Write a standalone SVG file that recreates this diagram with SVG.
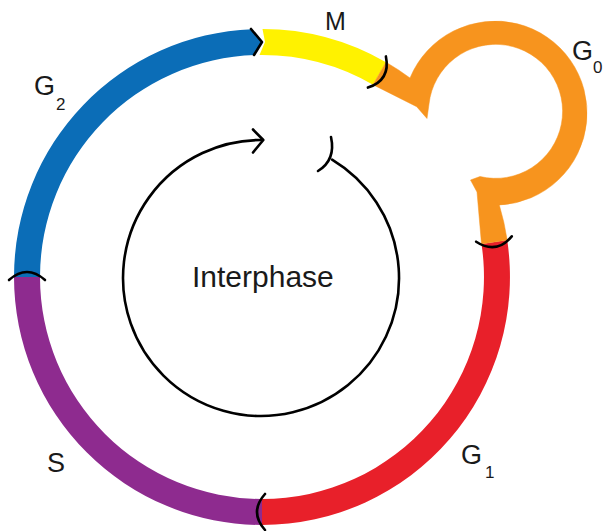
<svg xmlns="http://www.w3.org/2000/svg" width="607" height="531" viewBox="0 0 607 531">
<style>
.lbl{font-family:"Liberation Sans",Arial,Helvetica,sans-serif;fill:#1a1a1a;}
.tick{fill:none;stroke:#000;stroke-width:2.6;stroke-linecap:round;}
.ln{fill:none;stroke:#000;stroke-width:2.6;stroke-linecap:round;stroke-linejoin:round;}
</style>
<rect width="607" height="531" fill="#fff"/>
<g id="node-G1">
<path d="M507.2,240.1 A248,248 0 0 1 262,525 L262,499 A222,222 0 0 0 481.5,243.9 Z" fill="#E8202A"/>
<text class="lbl" x="461" y="464" font-size="27">G<tspan font-size="17" x="485" y="478">1</tspan></text>
</g>
<g id="node-S">
<path d="M262,525 A248,248 0 0 1 14,277 L40,277 A222,222 0 0 0 262,499 Z" fill="#8E2B8F"/>
<text class="lbl" x="47" y="472" font-size="27">S</text>
</g>
<g id="node-G2">
<path d="M14,277 A248,248 0 0 1 252,29.2 L262,42 L255,55.1 A222,222 0 0 0 40,277 Z" fill="#0B6DB7"/>
<polyline class="ln" points="251,29 262,42 254,55"/>
<text class="lbl" x="34" y="95" font-size="27">G<tspan font-size="17" x="56" y="110">2</tspan></text>
</g>
<g id="node-M">
<path d="M262.5,29 A248,248 0 0 1 386,62.2 L373,84.7 A222,222 0 0 0 259.5,55 L265,42 Z" fill="#FFF200"/>
<text class="lbl" x="325" y="30" font-size="25">M</text>
</g>
<g id="node-G0">
<path d="M386,62.2 A248,248 0 0 1 410,78 A92,92 0 1 1 499.3,205 A248,248 0 0 1 507.2,240.1 L481.5,243.9 L477,192 L470.5,180 L480,176.5 A67,67 0 1 0 429,104 L427,118.5 L416.7,106.7 L373,84.7 Z" fill="#F7941E" stroke="#F7941E" stroke-width="0.5" stroke-linejoin="round"/>
<text class="lbl" x="572" y="60" font-size="27">G<tspan font-size="17" x="593" y="73">0</tspan></text>
</g>
<g id="node-Interphase">
<text class="lbl" x="192" y="287" font-size="30">Interphase</text>
</g>
<g id="connectors">
<path class="tick" d="M-18,-3 Q0,13 18,-3" transform="translate(379.5,73.5) rotate(-60)"/>
<path class="tick" d="M-18,-3 Q0,13 18,-3" transform="translate(494.4,242) rotate(-8.57)"/>
<path class="tick" d="M-18,-3 Q0,13 18,-3" transform="translate(262,512) rotate(90)"/>
<path class="tick" d="M-18,-3 Q0,13 18,-3" transform="translate(27,277) rotate(180)"/>
<path class="ln" d="M332.1,159.7 A138,138 0 1 1 262.7,140"/>
<polyline class="ln" points="253,129.5 263.3,140 253,152.5"/>
<path class="ln" d="M331,137 Q336,160 318,171"/>
</g>
</svg>
